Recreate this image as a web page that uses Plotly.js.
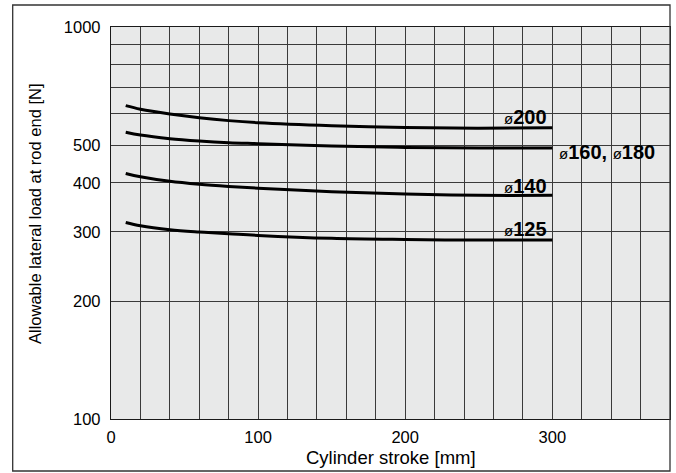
<!DOCTYPE html>
<html>
<head>
<meta charset="utf-8">
<script src="https://cdn.plot.ly/plotly-3.0.1.min.js"></script>
<style>html,body{margin:0;padding:0;background:#fff;}#chart{width:676px;height:473px;}</style>
</head>
<body>
<div id="chart"></div>
<script>
// Cylinder stroke [mm]
const stroke = [10, 20, 40, 60, 80, 100, 150, 200, 250, 300];
// Allowable lateral load at rod end [N]
const load200 = [630, 617, 600, 587, 577, 570, 560, 554, 552, 553];
const load160_180 = [539, 530, 519, 512, 507, 504, 497, 493, 491, 491];
const load140 = [423, 415, 404, 397, 392, 388, 380, 375, 372, 372];
const load125 = [317, 311, 304, 300, 297, 294, 289, 287, 286, 286];
const seriesNames = ['ø200', 'ø160, ø180', 'ø140', 'ø125'];
const xTickVals = [0, 100, 200, 300];
const yTickVals = [100, 200, 300, 400, 500, 600, 700, 800, 900, 1000];
const yTickText = ['100', '200', '300', '400', '500', '', '', '', '', '1000'];

const FONT = 'Liberation Sans, Arial, Helvetica, sans-serif';
const PLOT_BG = '#e8e9e9';
const GRID = '#3a3a3a';
const allSeries = [load200, load160_180, load140, load125];
const traces = allSeries.map((ys, i) => ({
  type: 'scatter', mode: 'lines', x: stroke, y: ys, name: seriesNames[i],
  line: {color: '#000', width: 3, shape: 'spline', smoothing: 1},
  hoverinfo: 'skip', showlegend: false
}));

function lbl(t) {
  return t.split(', ').map(p => "<span style='font-size:15px;font-weight:normal'>ø</span><b>" + p.replace('ø', '') + "</b>").join('<b>, </b>');
}
const labelStyle = {family: FONT, size: 20, color: '#000'};

// label placement (pixel targets converted to paper fractions)
const PT = 27, PB = 419;
const py = px => (PB - px) / (PB - PT);
const labels = [
  {text: seriesNames[0], x: 300, side: 'right', y: 116.5, w: 55},
  {text: seriesNames[1], x: 300, side: 'left', y: 152, w: 114},
  {text: seriesNames[2], x: 300, side: 'right', y: 186.4, w: 55},
  {text: seriesNames[3], x: 300, side: 'right', y: 228.6, w: 55}
];

const annotations = labels.map(L => ({
  xref: 'x', yref: 'paper', x: L.x, y: py(L.y),
  xanchor: L.side === 'right' ? 'right' : 'left', xshift: L.side === 'right' ? -3 : 5,
  yanchor: 'middle', text: lbl(L.text), showarrow: false, font: labelStyle
}));
annotations.push(
  {xref: 'paper', yref: 'paper', x: (35 - 111) / 559, y: py(214), xanchor: 'center', yanchor: 'middle', textangle: -90,
   text: 'Allowable lateral load at rod end [N]', showarrow: false, font: {family: FONT, size: 16.5, color: '#000'}},
  {xref: 'paper', yref: 'paper', x: 0.5, y: py(457), xanchor: 'center', yanchor: 'middle',
   text: 'Cylinder stroke [mm]', showarrow: false, font: {family: FONT, size: 18.5, color: '#000'}}
);

// background masks behind labels (between gridlines and traces)
const shapes = labels.map(L => ({
  type: 'rect', layer: 'between', xref: 'x', xsizemode: 'pixel', xanchor: L.x,
  x0: L.side === 'right' ? -L.w : 3, x1: L.side === 'right' ? -2 : L.w,
  yref: 'paper', ysizemode: 'pixel', yanchor: py(L.y), y0: -10, y1: 10,
  fillcolor: PLOT_BG, line: {width: 0}
}));
shapes.push({
  type: 'rect', xref: 'paper', yref: 'paper', x0: (12.7 - 111) / 559, x1: 1.0, y0: py(471), y1: py(5),
  line: {color: '#333', width: 1.3}, fillcolor: 'rgba(0,0,0,0)', layer: 'above'
});

const layout = {
  width: 676, height: 473,
  margin: {l: 111, r: 6, t: PT, b: 473 - PB, pad: 0},
  paper_bgcolor: '#fff', plot_bgcolor: PLOT_BG,
  font: {family: FONT, size: 16, color: '#000'},
  xaxis: {
    range: [0, 380], tickvals: xTickVals, ticks: '', ticklabelstandoff: 3,
    showgrid: true, gridcolor: GRID, gridwidth: 1,
    minor: {dtick: 20, tick0: 0, showgrid: true, gridcolor: GRID, gridwidth: 1, ticks: ''},
    zeroline: false, showline: true, mirror: true, linecolor: '#1a1a1a', linewidth: 1.2,
    tickfont: {family: FONT, size: 16.5, color: '#000'}, fixedrange: true
  },
  yaxis: {
    type: 'log', range: [2, 3], tickvals: yTickVals, ticktext: yTickText, ticks: '',
    ticklabelstandoff: 6,
    showgrid: true, gridcolor: GRID, gridwidth: 1,
    zeroline: false, showline: true, mirror: true, linecolor: '#1a1a1a', linewidth: 1.2,
    tickfont: {family: FONT, size: 16.5, color: '#000'}, fixedrange: true
  },
  shapes: shapes,
  annotations: annotations
};

Plotly.newPlot('chart', traces, layout, {displayModeBar: false, staticPlot: true});
</script>
</body>
</html>
